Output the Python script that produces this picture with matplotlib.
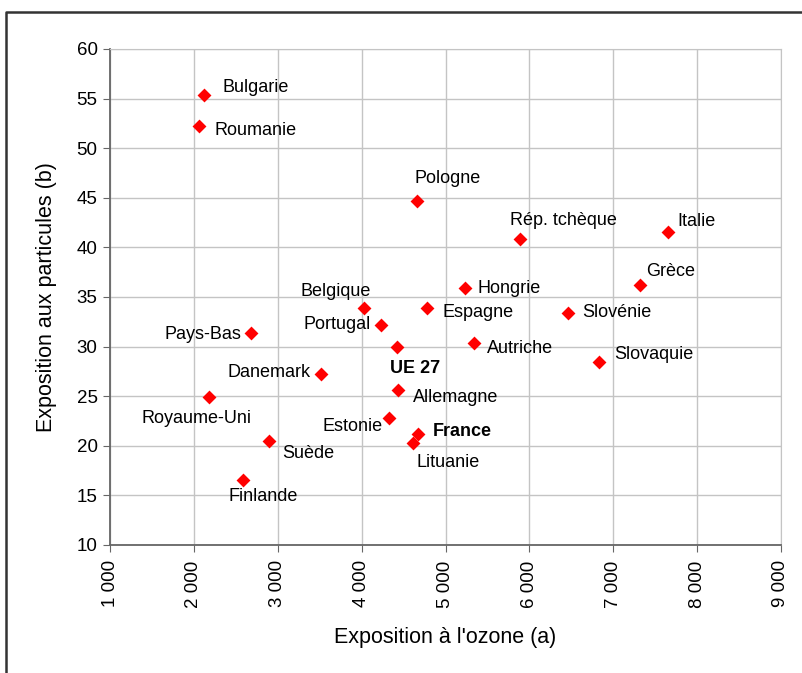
import matplotlib.pyplot as plt
from matplotlib.lines import Line2D
from matplotlib.ticker import FuncFormatter

plt.rcParams['font.family'] = ['Liberation Sans', 'DejaVu Sans']

# Données : exposition à l'ozone (a) et aux particules (b)
pays = ['Bulgarie', 'Roumanie', 'Pologne', 'Rép. tchèque', 'Italie', 'Grèce',
        'Hongrie', 'Slovénie', 'Espagne', 'Belgique', 'Portugal', 'Autriche',
        'Pays-Bas', 'UE 27', 'Slovaquie', 'Danemark', 'Allemagne',
        'Royaume-Uni', 'Estonie', 'France', 'Lituanie', 'Suède', 'Finlande']
ozone = [2120, 2060, 4660, 5890, 7650, 7320,
         5230, 6460, 4780, 4030, 4230, 5340,
         2680, 4420, 6830, 3520, 4430,
         2180, 4330, 4670, 4610, 2900, 2590]
particules = [55.4, 52.2, 44.7, 40.8, 41.6, 36.2,
              35.9, 33.4, 33.9, 33.9, 32.2, 30.4,
              31.4, 30.0, 28.4, 27.2, 25.6,
              24.9, 22.8, 21.2, 20.3, 20.5, 16.6]

# décalage des étiquettes (points) et alignement
offsets = {
    'Bulgarie': (13, 5, 'left'), 'Roumanie': (11, -3, 'left'),
    'Pologne': (-2, 16, 'left'), 'Rép. tchèque': (-7, 14, 'left'),
    'Italie': (7, 7, 'left'), 'Grèce': (4, 10, 'left'),
    'Hongrie': (9, 0, 'left'), 'Slovénie': (10, 0, 'left'),
    'Espagne': (11, -3, 'left'), 'Belgique': (5, 12, 'right'),
    'Portugal': (-7, 0, 'right'), 'Autriche': (9, -4, 'left'),
    'Pays-Bas': (-7, -1, 'right'), 'UE 27': (-5, -16, 'left'),
    'Slovaquie': (11, 6, 'left'), 'Danemark': (-8, 1, 'right'),
    'Allemagne': (11, -5, 'left'), 'Royaume-Uni': (-9, -15, 'center'),
    'Estonie': (-5, -6, 'right'), 'France': (11, 2, 'left'),
    'Lituanie': (3, -14, 'left'), 'Suède': (9, -9, 'left'),
    'Finlande': (-11, -12, 'left'),
}
gras = ['UE 27', 'France']

fig = plt.figure(figsize=(8.03, 6.73), dpi=100)
ax = fig.add_axes([0.137, 0.1902, 0.8356, 0.737])

ax.grid(True, color='#c4c4c4', linewidth=1)
ax.set_axisbelow(True)
ax.scatter(ozone, particules, marker='D', s=50, color='#ff0000', zorder=3,
           linewidths=0)

for nom, x, y in zip(pays, ozone, particules):
    dx, dy, ha = offsets[nom]
    ax.annotate(nom, (x, y), xytext=(dx, dy), textcoords='offset points',
                ha=ha, va='center', fontsize=13,
                fontweight='bold' if nom in gras else 'normal')

ax.set_xlim(1000, 9000)
ax.set_ylim(10, 60)
ax.set_xticks(range(1000, 9001, 1000))
ax.set_yticks(range(10, 61, 5))
ax.xaxis.set_major_formatter(FuncFormatter(lambda v, p: f'{int(v):,}'.replace(',', ' ')))
ax.tick_params(axis='x', labelrotation=90, labelsize=13.5, length=5,
               color='#666666', pad=6)
ax.tick_params(axis='y', labelsize=13.5, length=5, color='#666666', pad=4)

for s in ['left', 'bottom']:
    ax.spines[s].set_color('#666666')
    ax.spines[s].set_linewidth(1.3)
for s in ['top', 'right']:
    ax.spines[s].set_color('#c4c4c4')

ax.set_xlabel("Exposition à l'ozone (a)", fontsize=15.5, labelpad=14)
ax.set_ylabel('Exposition aux particules (b)', fontsize=15.5, labelpad=14)

# cadre autour du graphique
fig.add_artist(Line2D([6 / 803, 6 / 803, 1.0], [0.0, 1 - 12 / 673, 1 - 12 / 673],
                      color='#333333', linewidth=1.8))

fig.savefig('out.png', dpi=100)
